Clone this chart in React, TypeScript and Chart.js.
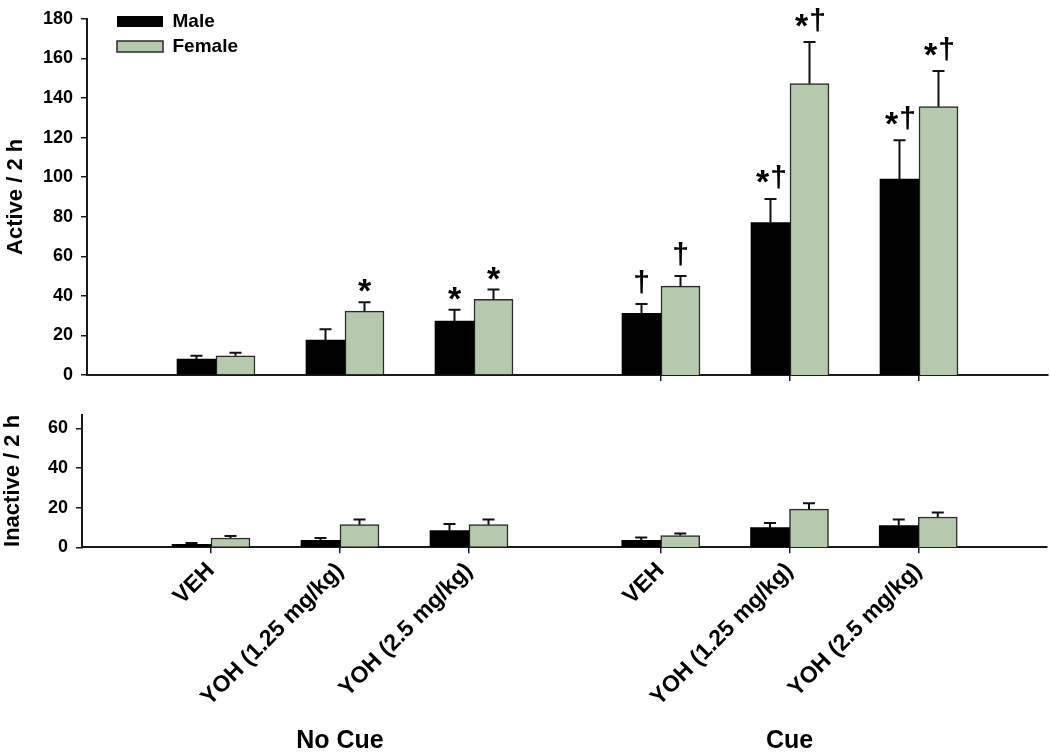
import React, { useEffect, useRef } from 'react';
import { Chart, registerables } from 'chart.js';

Chart.register(...registerables);

const FONT = "'Liberation Sans', Arial, Helvetica, sans-serif";
const INK = '#1a1a1a';
const MALE_COLOR = '#000000';
const FEMALE_COLOR = '#b5c9ad';
const FEMALE_BORDER = '#2a2a2a';

// Categories / labels
const treatments = ['VEH', 'YOH (1.25 mg/kg)', 'YOH (2.5 mg/kg)'];
const seriesLabels = ['Male', 'Female'];
const conditionLabels = ['No Cue', 'Cue'];
const yTitles = ['Active / 2 h', 'Inactive / 2 h'];

// Active responses / 2 h (mean and SEM)
const activeMaleNoCue = [8.0, 17.6, 27.3];
const activeMaleNoCueErr = [1.7, 5.5, 5.7];
const activeFemaleNoCue = [9.7, 32.3, 38.2];
const activeFemaleNoCueErr = [1.5, 4.4, 5.0];
const activeMaleCue = [31.0, 76.6, 98.5];
const activeMaleCueErr = [4.7, 11.9, 19.5];
const activeFemaleCue = [44.7, 146.5, 134.9];
const activeFemaleCueErr = [5.1, 20.9, 17.9];

// Inactive responses / 2 h (mean and SEM)
const inactiveMaleNoCue = [1.5, 3.5, 8.4];
const inactiveMaleNoCueErr = [0.7, 1.2, 3.4];
const inactiveFemaleNoCue = [4.7, 11.4, 11.4];
const inactiveFemaleNoCueErr = [1.0, 2.6, 2.6];
const inactiveMaleCue = [3.5, 9.9, 10.9];
const inactiveMaleCueErr = [1.5, 2.4, 3.1];
const inactiveFemaleCue = [5.9, 19.3, 15.3];
const inactiveFemaleCueErr = [1.0, 2.9, 2.3];

// Significance marks (active panel)
const marksMaleNoCue = ['', '', '*'];
const marksFemaleNoCue = ['', '*', '*'];
const marksMaleCue = ['†', '*†', '*†'];
const marksFemaleCue = ['†', '*†', '*†'];
const noMarks = ['', '', ''];

// Axis ranges
const activeMax = 180;
const inactiveMax = 67;
const yStep = 20;

Chart.defaults.color = '#000';
Chart.defaults.font.family = FONT;

const errorBarPlugin = {
  id: 'errorBarsAndMarks',
  afterDatasetsDraw(chart: any) {
    const ctx = chart.ctx;
    const yScale = chart.scales.y;
    chart.data.datasets.forEach((ds: any, di: number) => {
      const meta = chart.getDatasetMeta(di);
      meta.data.forEach((bar: any, i: number) => {
        const point = ds.data[i];
        if (!point) return;
        const err = ds.errors ? ds.errors[i] : 0;
        const topY = yScale.getPixelForValue(point.y + err);
        const x = bar.x;
        ctx.save();
        if (err > 0) {
          ctx.strokeStyle = '#111';
          ctx.lineWidth = 2;
          ctx.beginPath();
          ctx.moveTo(x, bar.y);
          ctx.lineTo(x, topY);
          ctx.moveTo(x - 6, topY);
          ctx.lineTo(x + 6, topY);
          ctx.stroke();
        }
        const mark = ds.marks ? ds.marks[i] : '';
        if (mark) {
          ctx.fillStyle = '#000';
          ctx.textAlign = 'center';
          ctx.textBaseline = 'alphabetic';
          const glyphs = Array.from(mark) as string[];
          const fontFor = (g: string) => `bold ${g === '*' ? 34 : 30}px ${FONT}`;
          const metrics = glyphs.map((g) => {
            ctx.font = fontFor(g);
            return ctx.measureText(g);
          });
          const maxH = Math.max(
            ...metrics.map((m: any) => m.actualBoundingBoxAscent + m.actualBoundingBoxDescent)
          );
          const cy = topY - 10 - maxH / 2;
          glyphs.forEach((g, k) => {
            const m: any = metrics[k];
            ctx.font = fontFor(g);
            const gx = x + (k - (glyphs.length - 1) / 2) * 16;
            const gy = cy + (m.actualBoundingBoxAscent - m.actualBoundingBoxDescent) / 2;
            ctx.fillText(g, gx, gy);
          });
        }
        ctx.restore();
      });
    });
  },
};

const legendPlacement = (left: number, top: number) => ({
  id: 'legendPlacement',
  afterLayout(chart: any) {
    const lg = chart.legend;
    if (!lg) return;
    const w = lg.width;
    const h = lg.height;
    lg.left = left;
    lg.top = top;
    lg.right = left + w;
    lg.bottom = top + h;
  },
});

type PanelOpts = {
  male: number[];
  maleErr: number[];
  maleMarks: string[];
  female: number[];
  femaleErr: number[];
  femaleMarks: string[];
  yMax: number;
  showY: boolean;
  yTitle: string;
  yTitlePad: number;
  yWidth: number;
  xTitle: string | null;
  showXTicks: boolean;
  showXLabels: boolean;
  xHeight: number;
  xMax: number;
  legend: boolean;
  padding: { left: number; top: number; right: number; bottom: number };
};

function buildConfig(o: PanelOpts): any {
  const barThickness = 39;
  return {
    type: 'bar',
    data: {
      datasets: [
        {
          label: seriesLabels[0],
          data: o.male.map((y, i) => ({ x: i + 1, y })),
          errors: o.maleErr,
          marks: o.maleMarks,
          backgroundColor: MALE_COLOR,
          borderColor: MALE_COLOR,
          borderWidth: 0,
          barThickness,
        },
        {
          label: seriesLabels[1],
          data: o.female.map((y, i) => ({ x: i + 1, y })),
          errors: o.femaleErr,
          marks: o.femaleMarks,
          backgroundColor: FEMALE_COLOR,
          borderColor: FEMALE_BORDER,
          borderWidth: 1.5,
          barThickness,
        },
      ],
    },
    options: {
      responsive: false,
      maintainAspectRatio: false,
      animation: false,
      devicePixelRatio: 1,
      layout: { padding: o.padding },
      plugins: {
        tooltip: { enabled: false },
        legend: o.legend
          ? {
              display: true,
              position: 'chartArea',
              align: 'start',
              labels: {
                boxWidth: 46,
                boxHeight: 11,
                padding: 6,
                color: '#000',
                font: { family: FONT, size: 19, weight: 'bold' },
              },
            }
          : { display: false },
      },
      scales: {
        x: {
          type: 'linear',
          min: 0,
          max: o.xMax,
          offset: false,
          grid: {
            display: true,
            drawOnChartArea: false,
            drawTicks: o.showXTicks,
            tickLength: 6,
            color: INK,
            lineWidth: 1.5,
            offset: false,
          },
          border: { display: true, color: INK, width: 2 },
          afterBuildTicks: (scale: any) => {
            scale.ticks = treatments.map((_, i) => ({ value: i + 1 }));
          },
          ticks: {
            display: o.showXLabels,
            autoSkip: false,
            minRotation: 45,
            maxRotation: 45,
            padding: 4,
            color: '#000',
            font: { family: FONT, size: 23, weight: 'bold' },
            callback: (v: any) => treatments[Math.round(v) - 1] ?? '',
          },
          title: o.xTitle
            ? {
                display: true,
                text: o.xTitle,
                color: '#000',
                padding: 0,
                font: { family: FONT, size: 25, weight: 'bold', lineHeight: 1 },
              }
            : { display: false },
          afterFit: (scale: any) => {
            scale.height = o.xHeight;
          },
        },
        y: {
          display: o.showY,
          min: 0,
          max: o.yMax,
          ticks: {
            stepSize: yStep,
            includeBounds: false,
            padding: 8,
            color: '#000',
            font: { family: FONT, size: 18, weight: 'bold' },
          },
          grid: {
            drawOnChartArea: false,
            tickLength: 6,
            color: INK,
            lineWidth: 1.5,
          },
          border: { display: true, color: INK, width: 2 },
          title: {
            display: o.showY,
            text: o.yTitle,
            color: '#000',
            padding: { top: o.yTitlePad, bottom: 0 },
            font: { family: FONT, size: 22, weight: 'bold', lineHeight: 1.2 },
          },
          afterFit: (scale: any) => {
            scale.width = o.yWidth;
          },
        },
      },
    },
    plugins: o.legend ? [errorBarPlugin, legendPlacement(111, 6)] : [errorBarPlugin],
  };
}

export default function App() {
  const topLeft = useRef<HTMLCanvasElement>(null);
  const topRight = useRef<HTMLCanvasElement>(null);
  const botLeft = useRef<HTMLCanvasElement>(null);
  const botRight = useRef<HTMLCanvasElement>(null);

  useEffect(() => {
    const charts: Chart[] = [];
    charts.push(
      new Chart(
        topLeft.current as HTMLCanvasElement,
        buildConfig({
          male: activeMaleNoCue,
          maleErr: activeMaleNoCueErr,
          maleMarks: marksMaleNoCue,
          female: activeFemaleNoCue,
          femaleErr: activeFemaleNoCueErr,
          femaleMarks: marksFemaleNoCue,
          yMax: activeMax,
          showY: true,
          yTitle: yTitles[0],
          yTitlePad: 3,
          yWidth: 87,
          xTitle: null,
          showXTicks: false,
          showXLabels: false,
          xHeight: 25,
          xMax: 4,
          legend: true,
          padding: { left: 0, top: 17, right: 7, bottom: 0 },
        })
      )
    );
    charts.push(
      new Chart(
        topRight.current as HTMLCanvasElement,
        buildConfig({
          male: activeMaleCue,
          maleErr: activeMaleCueErr,
          maleMarks: marksMaleCue,
          female: activeFemaleCue,
          femaleErr: activeFemaleCueErr,
          femaleMarks: marksFemaleCue,
          yMax: activeMax,
          showY: false,
          yTitle: '',
          yTitlePad: 0,
          yWidth: 0,
          xTitle: null,
          showXTicks: true,
          showXLabels: false,
          xHeight: 25,
          xMax: 4,
          legend: false,
          padding: { left: 0, top: 17, right: 2, bottom: 0 },
        })
      )
    );
    charts.push(
      new Chart(
        botLeft.current as HTMLCanvasElement,
        buildConfig({
          male: inactiveMaleNoCue,
          maleErr: inactiveMaleNoCueErr,
          maleMarks: noMarks,
          female: inactiveFemaleNoCue,
          femaleErr: inactiveFemaleNoCueErr,
          femaleMarks: noMarks,
          yMax: inactiveMax,
          showY: true,
          yTitle: yTitles[1],
          yTitlePad: 0,
          yWidth: 82,
          xTitle: conditionLabels[0],
          showXTicks: true,
          showXLabels: true,
          xHeight: 206.7,
          xMax: 4,
          legend: false,
          padding: { left: 0, top: 19.5, right: 12, bottom: 0 },
        })
      )
    );
    charts.push(
      new Chart(
        botRight.current as HTMLCanvasElement,
        buildConfig({
          male: inactiveMaleCue,
          maleErr: inactiveMaleCueErr,
          maleMarks: noMarks,
          female: inactiveFemaleCue,
          femaleErr: inactiveFemaleCueErr,
          femaleMarks: noMarks,
          yMax: inactiveMax,
          showY: false,
          yTitle: '',
          yTitlePad: 0,
          yWidth: 0,
          xTitle: conditionLabels[1],
          showXTicks: true,
          showXLabels: true,
          xHeight: 206.7,
          xMax: 4,
          legend: false,
          padding: { left: 0, top: 19.5, right: 3, bottom: 0 },
        })
      )
    );
    return () => charts.forEach((c) => c.destroy());
  }, []);

  const abs = (left: number, top: number): React.CSSProperties => ({
    position: 'absolute',
    left,
    top,
    display: 'block',
  });

  return (
    <div
      style={{
        position: 'absolute',
        left: 0,
        top: 0,
        width: 1050,
        height: 754,
        background: '#fff',
        overflow: 'hidden',
      }}
    >
      <canvas ref={topLeft} width={610} height={400} style={abs(0, 0)} />
      <canvas ref={topRight} width={518} height={400} style={abs(532, 0)} />
      <canvas ref={botLeft} width={610} height={359} style={abs(0, 395)} />
      <canvas ref={botRight} width={518} height={359} style={abs(532, 395)} />
    </div>
  );
}
